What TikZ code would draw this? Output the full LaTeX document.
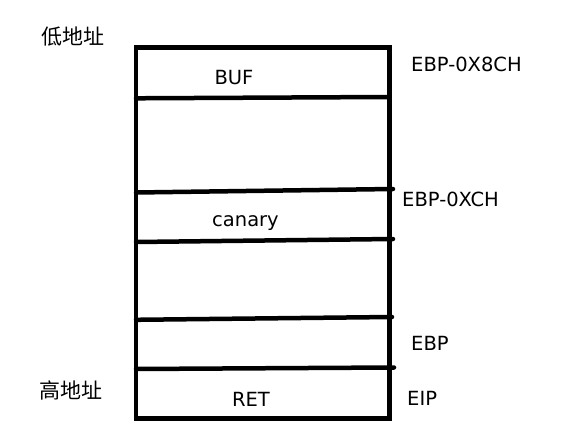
\documentclass[tikz,border=0pt]{standalone}
\usepackage{fontspec}
\setmainfont{DejaVu Sans}
\newfontfamily\cjk{Noto Sans CJK SC}
\usepackage{tikz}
\usetikzlibrary{positioning}
\tikzset{
    stackframe/.style={draw=black, line width=4.5pt, line join=miter},
    stackline/.style={draw=black, line width=4.5pt, line cap=round},
    celltext/.style={inner sep=0pt, anchor=base, font=\fontsize{19.5}{22}\selectfont},
    regtext/.style={inner sep=0pt, anchor=base west, font=\fontsize{19.5}{22}\selectfont},
    addrtext/.style={inner sep=0pt, anchor=base west, font=\cjk\fontsize{21}{24}\selectfont},
}
\begin{document}
\begin{tikzpicture}[x=1pt, y=-1pt]
    \useasboundingbox (0,0) rectangle (588,446);

    % Stack frame outline
    \draw[stackframe] (136,47.5) rectangle (389.5,418.3);

    % Separator lines (hand drawn, slightly tilted)
    \draw[stackline] (136,98.3) -- (389.5,97);
    \draw[stackline] (136,192.5) -- (393,189);
    \draw[stackline] (136,242) -- (393,239);
    \draw[stackline] (136,319.8) -- (392,317);
    \draw[stackline] (136,369) -- (394,367.5);

    % Cell contents
    \node[celltext] (buf) at (234,85) {BUF};
    \node[celltext] (canary) at (245.5,226) {canary};
    \node[celltext] (ret) at (251,406) {RET};

    % Register offsets on the right
    \node[regtext] (off8c) at (411,72) {EBP-0X8CH};
    \node[regtext] (offc) at (402,206.7) {EBP-0XCH};
    \node[regtext] (ebp) at (411,350) {EBP};
    \node[regtext] (eip) at (407,405) {EIP};

    % Address direction
    \node[addrtext] (low) at (41,44.5) {低地址};
    \node[addrtext] (high) at (39,398.5) {高地址};
\end{tikzpicture}
\end{document}
